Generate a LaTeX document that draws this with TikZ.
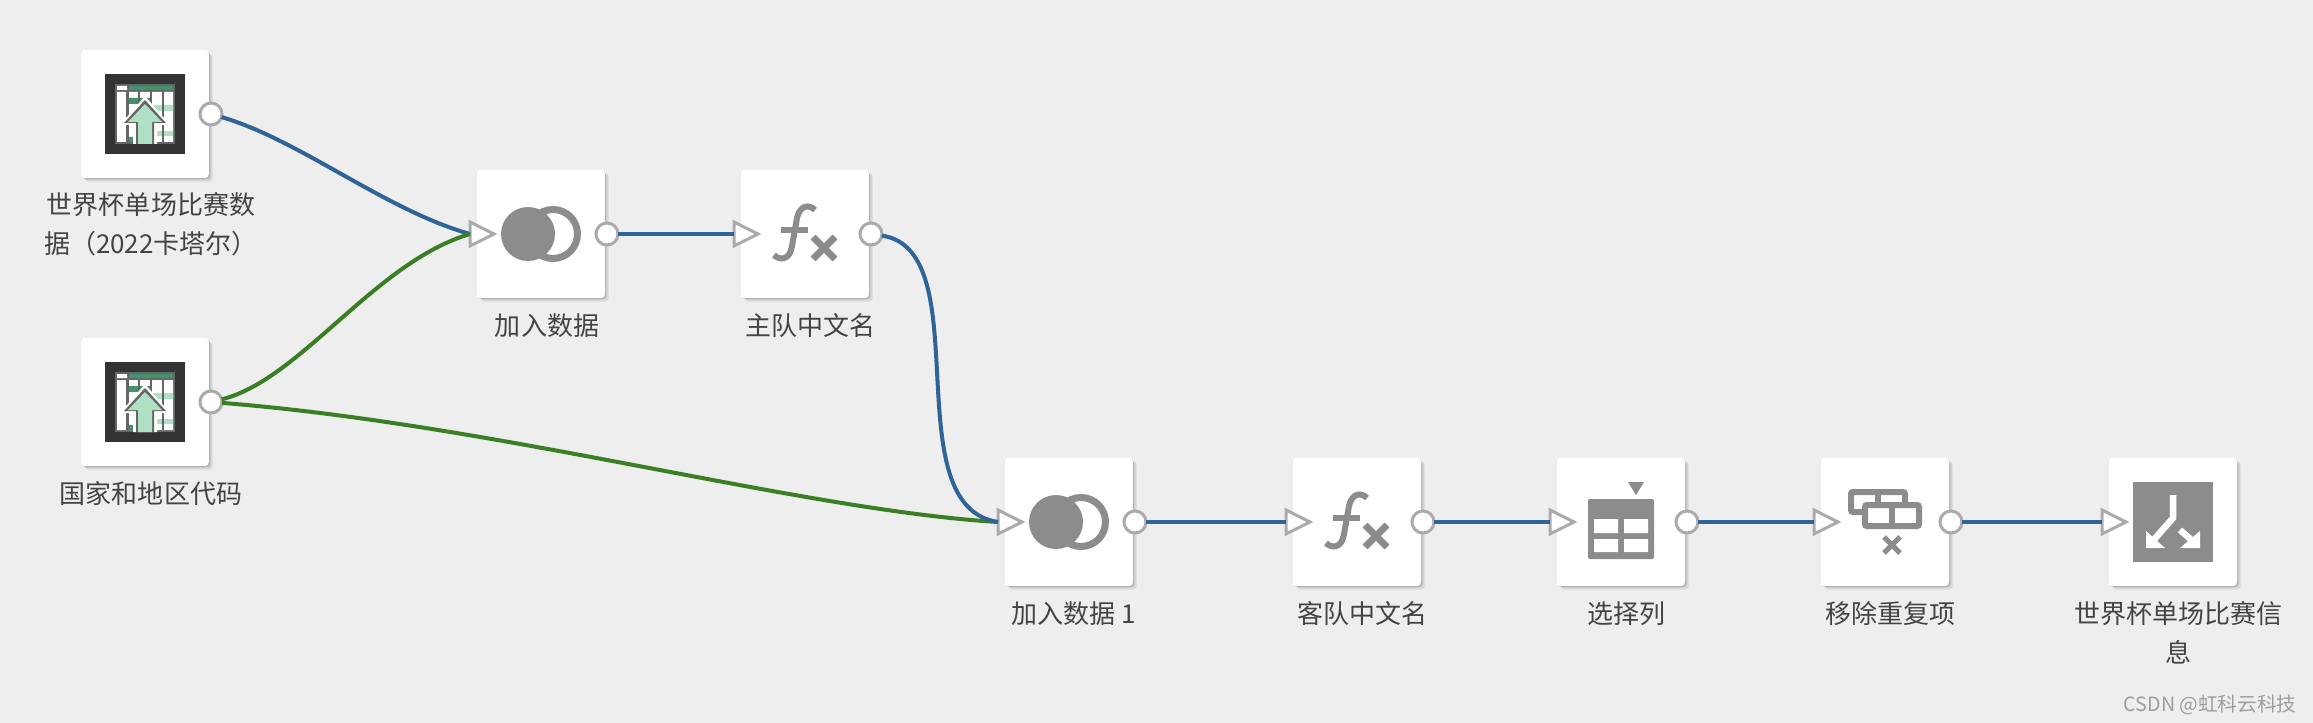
\documentclass[tikz,border=0pt]{standalone}
\usepackage{fontspec}
\setmainfont{Noto Sans CJK SC}
\usetikzlibrary{shapes.geometric,shadows}
\definecolor{flowbg}{HTML}{EEEEEE}
\definecolor{flowblue}{HTML}{2F6498}
\definecolor{flowgreen}{HTML}{3B7F24}
\definecolor{icongray}{HTML}{8C8C8C}
\definecolor{portgray}{HTML}{ABABAB}
\definecolor{labelgray}{HTML}{444444}
\definecolor{sheetdark}{HTML}{333333}
\definecolor{sheetgreen}{HTML}{3F9468}
\definecolor{sheetlight}{HTML}{B0E0C4}
\tikzset{
    card/.style={rectangle,rounded corners=0.08cm,minimum size=2.56cm,inner sep=0pt,fill=white,
        drop shadow={shadow xshift=0.02cm,shadow yshift=-0.02cm,opacity=0.1,fill=black},
        drop shadow={shadow xshift=0.05cm,shadow yshift=-0.05cm,opacity=0.1,fill=black},
        drop shadow={shadow xshift=0.08cm,shadow yshift=-0.08cm,opacity=0.06,fill=black}},
    outport/.style={circle,draw=portgray,fill=white,line width=0.06cm,minimum size=0.44cm,inner sep=0pt,outer sep=0pt},
    inport/.style={isosceles triangle,isosceles triangle apex angle=60,isosceles triangle stretches,
        draw=portgray,fill=white,line width=0.06cm,minimum width=0.48cm,minimum height=0.48cm,
        inner sep=0pt,outer sep=0pt,anchor=lower side},
    flowlabel/.style={anchor=north,align=center,text=labelgray,font=\fontsize{14.8pt}{22pt}\selectfont,inner sep=0pt},
    blueline/.style={draw=flowblue,line width=0.08cm},
    greenline/.style={draw=flowgreen,line width=0.08cm},
    pics/joinicon/.style={code={
        \draw[icongray,line width=0.14cm] (12,0) circle (24.5);
        \fill[icongray] (-13,0) circle (27);
    }},
    pics/fxicon/.style={code={
        \draw[icongray,line width=0.12cm] (10,-24) .. controls (4,-30) and (-5,-29) .. (-8,-16)
            -- (-13,12) .. controls (-15,26) and (-25,27) .. (-31,21);
        \draw[icongray,line width=0.13cm] (-24,-4) -- (3,-4);
        \draw[icongray,line width=0.14cm] (8,3) -- (30,25) (30,3) -- (8,25);
    }},
    pics/selecticon/.style={code={
        \fill[icongray,rounded corners=0.04cm] (-33,-23) rectangle (33,37);
        \fill[white] (-27,-3) rectangle (-3,11) (3,-3) rectangle (27,11)
            (-27,17) rectangle (-3,30) (3,17) rectangle (27,30);
        \fill[icongray] (7,-40) -- (23,-40) -- (15,-27) -- cycle;
    }},
    pics/removeicon/.style={code={
        \draw[icongray,line width=0.12cm,fill=white,rounded corners=0.04cm] (-34,-30) rectangle (20,-10);
        \draw[icongray,line width=0.12cm] (-7,-30) -- (-7,-17);
        \draw[icongray,line width=0.12cm,fill=white,rounded corners=0.04cm] (-20,-17) rectangle (34,4);
        \draw[icongray,line width=0.12cm] (7,-17) -- (7,4);
        \draw[icongray,line width=0.1cm] (-1,15) -- (15,31) (15,15) -- (-1,31);
    }},
    pics/outputicon/.style={code={
        \fill[icongray] (-40,-40) rectangle (40,40);
        \draw[white,line width=0.13cm] (0,-27) -- (0,-4) -- (-22,21);
        \draw[white,line width=0.13cm] (7,8) -- (23,22);
        \fill[white] (-27,9) -- (-27,26) -- (-8,26) -- cycle;
        \fill[white] (27,9) -- (27,26) -- (7,26) -- cycle;
    }},
    pics/sheeticon/.style={code={
        \fill[sheetdark] (-40,-40) rectangle (40,40);
        \fill[black!60] (-30,-30) rectangle (30,30);
        \fill[white] (-28,-28) rectangle (-18,-24) (-28,-22) rectangle (-18,28) (-16,-22) rectangle (28,28);
        \fill[sheetgreen] (-16,-28) rectangle (28,-24) (-16,-16) rectangle (5,-10) (-16,23) rectangle (-6,28);
        \fill[sheetlight] (7,-9) rectangle (28,-3) (6,17) rectangle (28,22);
        \draw[black!60,line width=0.03cm,shift={(6,-3)}] (-24,-19.5) grid[xstep=12,ystep=6.5] (22,31);
        % arrow with white rim
        \fill[white] (0,-18) -- (25,11) -- (12,11) -- (12,30) -- (-12,30) -- (-12,11) -- (-25,11) -- cycle;
        \fill[black!60] (0,-14) -- (21,9) -- (9,9) -- (9,30) -- (-9,30) -- (-9,9) -- (-21,9) -- cycle;
        \fill[sheetlight] (0,-10) -- (17,8) -- (7,8) -- (7,30) -- (-7,30) -- (-7,8) -- (-17,8) -- cycle;
    }}
}
\begin{document}
\begin{tikzpicture}[x=0.02cm,y=-0.02cm]
    \fill[flowbg] (0,0) rectangle (2313,723);
    \useasboundingbox (0,0) rectangle (2313,723);
    % cards
    \node[card] (games) at (145,114) {};
    \node[card] (codes) at (145,402) {};
    \node[card] (join) at (541,234) {};
    \node[card] (home) at (805,234) {};
    \node[card] (joinb) at (1069,522) {};
    \node[card] (away) at (1357,522) {};
    \node[card] (select) at (1621,522) {};
    \node[card] (remove) at (1885,522) {};
    \node[card] (output) at (2173,522) {};
    % icons
    \pic at (games) {sheeticon};
    \pic at (codes) {sheeticon};
    \pic at (join) {joinicon};
    \pic at (home) {fxicon};
    \pic at (joinb) {joinicon};
    \pic at (away) {fxicon};
    \pic at (select) {selecticon};
    \pic at (remove) {removeicon};
    \pic at (output) {outputicon};
    % links
    \node[outport] (gamesout) at (211,114) {};
    \node[outport] (codesout) at (211,402) {};
    \node[outport] (joinout) at (607,234) {};
    \node[outport] (homeout) at (871,234) {};
    \node[outport] (joinbout) at (1135,522) {};
    \node[outport] (awayout) at (1423,522) {};
    \node[outport] (selectout) at (1687,522) {};
    \node[outport] (removeout) at (1951,522) {};
    \node[inport] (joinin) at (470,234) {};
    \node[inport] (homein) at (734,234) {};
    \node[inport] (joinbin) at (998,522) {};
    \node[inport] (awayin) at (1286,522) {};
    \node[inport] (selectin) at (1550,522) {};
    \node[inport] (removein) at (1814,522) {};
    \node[inport] (outputin) at (2102,522) {};
    \draw[blueline] (gamesout) .. controls (300,140) and (385,210) .. (joinin.lower side);
    \draw[greenline] (codesout) .. controls (300,380) and (375,262) .. (joinin.lower side);
    \draw[greenline] (codesout) .. controls (500,425) and (800,510) .. (joinbin.lower side);
    \draw[blueline] (homeout) .. controls (980,250) and (893,506) .. (joinbin.lower side);
    \draw[blueline] (joinout) -- (homein.lower side);
    \draw[blueline] (joinbout) -- (awayin.lower side);
    \draw[blueline] (awayout) -- (selectin.lower side);
    \draw[blueline] (selectout) -- (removein.lower side);
    \draw[blueline] (removeout) -- (outputin.lower side);
    % labels
    \node[flowlabel] (gameslabel) at (151,192) {世界杯单场比赛数\\据（2022卡塔尔）};
    \node[flowlabel] (codeslabel) at (151,481) {国家和地区代码};
    \node[flowlabel] (joinlabel) at (547,313) {加入数据};
    \node[flowlabel] (homelabel) at (810,313) {主队中文名};
    \node[flowlabel] (joinblabel) at (1074,601) {加入数据 1};
    \node[flowlabel] (awaylabel) at (1362,601) {客队中文名};
    \node[flowlabel] (selectlabel) at (1626,601) {选择列};
    \node[flowlabel] (removelabel) at (1890,601) {移除重复项};
    \node[flowlabel] (outputlabel) at (2178,601) {世界杯单场比赛信\\息};
    \node[anchor=east,inner sep=0pt,text=black!38,font=\fontsize{11.2pt}{13pt}\selectfont] (mark) at (2297,705) {CSDN @虹科云科技};
\end{tikzpicture}
\end{document}
